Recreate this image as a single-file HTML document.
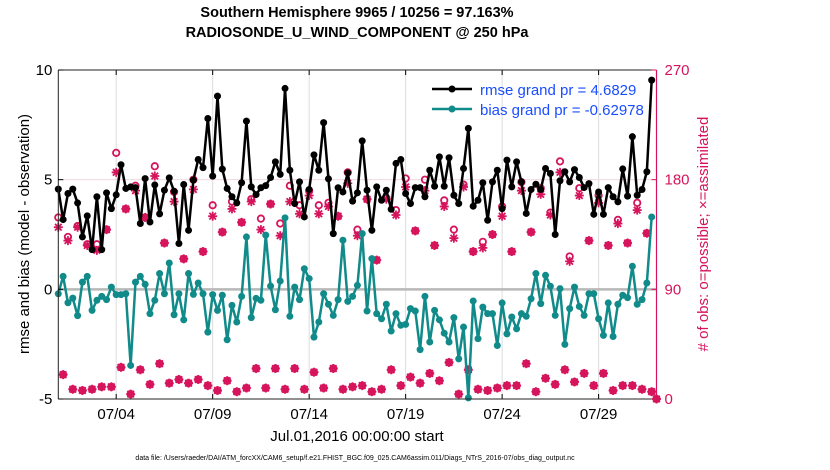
<!DOCTYPE html>
<html><head><meta charset="utf-8"><style>
html,body{margin:0;padding:0;background:#fff;}
svg{display:block;font-family:"Liberation Sans",sans-serif;}
</style></head><body>
<svg id="chart" width="830" height="470" viewBox="0 0 830 470">
<text x="357" y="17" text-anchor="middle" font-size="14.5" font-weight="bold">Southern Hemisphere 9965 / 10256 = 97.163%</text>
<text x="357" y="37" text-anchor="middle" font-size="14.5" font-weight="bold">RADIOSONDE_U_WIND_COMPONENT @ 250 hPa</text>
<text transform="translate(29,234) rotate(-90)" text-anchor="middle" font-size="15">rmse and bias (model - observation)</text>
<text transform="translate(708,234) rotate(-90)" text-anchor="middle" font-size="15" fill="#d6145c"># of obs: o=possible; ×=assimilated</text>
<text x="357" y="441" text-anchor="middle" font-size="15">Jul.01,2016 00:00:00 start</text>
<text x="355" y="460" text-anchor="middle" font-size="7">data file: /Users/raeder/DAI/ATM_forcXX/CAM6_setup/f.e21.FHIST_BGC.f09_025.CAM6assim.011/Diags_NTrS_2016-07/obs_diag_output.nc</text>
<g id="grid"></g>
<g id="marks"></g>
<g id="axes"></g>
<g>
<line x1="432" y1="89" x2="472" y2="89" stroke="#000" stroke-width="2.5"/>
<circle cx="452" cy="89" r="3.5" fill="#000"/>
<text x="480" y="95" font-size="15" fill="#1a4dff">rmse grand pr = 4.6829</text>
<line x1="432" y1="109" x2="472" y2="109" stroke="#118a8a" stroke-width="2.5"/>
<circle cx="452" cy="109" r="3.5" fill="#118a8a"/>
<text x="480" y="115" font-size="15" fill="#1a4dff">bias grand pr = -0.62978</text>
</g>
</svg>
<script>
const rmse=[4.57,3.18,4.37,4.57,3.94,2.39,3.35,1.81,4.22,1.81,4.4,3.68,4.31,5.68,4.6,4.67,4.64,3.0,5.05,3.07,4.76,3.44,4.52,5.08,4.47,2.09,4.78,2.69,4.98,5.92,5.55,7.79,
5.16,8.81,5.48,4.6,4.22,3.94,4.86,7.67,4.67,4.32,4.63,4.73,5.1,5.81,5.24,9.16,5.43,3.91,4.9,3.3,4.55,6.13,5.43,7.6,5.04,2.54,4.63,4.44,5.31,4.02,4.4,6.77,
4.52,2.69,4.67,4.06,4.52,3.65,5.74,5.92,4.37,3.91,4.64,4.64,4.22,5.43,4.7,6.04,4.7,6.0,4.29,3.91,5.51,7.34,3.79,4.06,4.86,3.15,4.9,5.43,3.68,5.89,
4.67,5.81,4.9,3.46,4.55,4.79,4.55,5.51,5.28,2.5,4.95,5.36,4.9,5.46,5.1,4.64,4.82,3.42,4.44,3.42,4.64,4.22,3.99,5.49,4.25,6.96,4.29,4.55,5.36,9.54];
const bias=[-0.2,0.59,-0.61,-0.4,-1.2,0.33,0.59,-0.96,-0.5,-0.32,-0.47,0.1,-0.24,-0.24,-0.2,-3.47,0.33,0.59,0.23,-1.11,-0.5,0.72,-0.2,1.2,-1.16,-0.2,-1.39,0.72,-0.23,0.29,-0.2,-1.95,
-0.24,-0.96,-0.27,-2.3,-0.73,-1.49,-0.32,2.39,-1.29,-0.41,-0.5,2.47,0.15,-0.93,0.38,3.26,-1.23,0.1,-0.47,0.94,0.49,-2.18,-1.49,-0.2,-0.68,-1.19,-0.47,2.24,-0.55,-0.32,0.18,
2.54,-0.99,1.4,-1.11,-1.34,-0.68,-1.9,-1.11,-1.64,-1.6,-0.88,-0.99,-2.75,-0.32,-2.4,-0.96,-1.39,-2.0,-2.4,-1.29,-3.17,-1.72,-4.95,-0.53,-2.25,-0.81,-1.11,-1.11,-2.56,-0.62,-2.03,
-1.26,-1.8,-1.11,-1.23,-0.43,0.72,-0.65,0.64,0.14,-1.19,0.03,-2.51,-0.88,0.1,-0.78,-1.19,-0.2,-0.2,-1.34,-2.1,-0.62,-2.15,-0.68,-0.27,-0.38,1.05,-0.68,-0.47,0.29,3.3];
const assimilated=[141,20,130,8,141,7,126,8,122,10,139,10,186,26,156,4,171,24,149,12,183,29,128,13,162,16,115,13,172,16,121,11,
150,7,137,15,156,6,145,9,162,25,139,9,160,25,134,8,162,25,152,8,167,22,152,9,158,25,150,8,177,10,134,
11,164,6,114,8,164,24,151,11,174,18,138,13,171,21,126,15,158,30,132,4,174,24,121,8,124,7,135,9,150,11,
121,11,171,29,137,6,168,17,151,12,186,24,113,14,167,21,130,11,161,21,126,7,144,11,128,11,155,8,136,6,0];
const possible=[149,20,133,8,142,7,127,8,127,10,139,10,202,26,156,4,175,24,149,12,191,29,128,13,170,16,115,13,180,16,121,11,
159,7,137,15,162,6,145,9,164,25,148,9,160,25,144,8,175,25,159,8,171,22,159,9,161,25,150,8,186,10,139,
11,164,6,114,8,165,24,155,11,181,18,138,13,180,21,126,15,163,30,139,4,176,24,121,8,129,7,135,9,158,11,
121,11,178,29,137,6,173,17,153,12,195,24,117,14,173,21,130,11,167,21,126,7,147,11,128,11,161,8,136,6,0];
const xTickLabels=["07/04","07/09","07/14","07/19","07/24","07/29"];
const xTickIndex=[12,32,52,72,92,112];
const leftTicks=[10,5,0,-5];
const rightTicks=[270,180,90,0];

const NS="http://www.w3.org/2000/svg";
const X0=58.3,X1=656.5,Y0=70,Y1=399;
const xs=i=>X0+(X1-X0)*i/124;
const yl=v=>Y1-(v+5)/15*(Y1-Y0);
const yr=v=>Y1-v/270*(Y1-Y0);
function mk(tag,attrs,parent){const e=document.createElementNS(NS,tag);for(const k in attrs)e.setAttribute(k,attrs[k]);parent.appendChild(e);return e;}
const grid=document.getElementById('grid'),marks=document.getElementById('marks'),axes=document.getElementById('axes');
const RED="#d6145c",TEAL="#118a8a";

xTickIndex.forEach((ti,k)=>{
  const x=xs(ti);
  const g=mk('line',{x1:x,y1:Y0,x2:x,y2:Y1,stroke:'#dcdcdc','stroke-width':1},grid);
  
  
  mk('line',{x1:x,y1:Y1,x2:x,y2:Y1-5,stroke:'#000'},axes);
  mk('line',{x1:x,y1:Y0,x2:x,y2:Y0+5,stroke:'#000'},axes);
  const t=mk('text',{x:x,y:Y1+20,'text-anchor':'middle','font-size':15},axes);
  t.textContent=xTickLabels[k];
  
  
});
const g5=mk('line',{x1:X0,y1:yl(5),x2:X1,y2:yl(5),stroke:'#f0d8e0','stroke-width':1},grid);


const zl=mk('line',{x1:X0,y1:yl(0),x2:X1,y2:yl(0),stroke:'#b8b8b8','stroke-width':2.5},grid);



// counts
function star(cx,cy,parent){
  const g=mk('g',{stroke:RED,'stroke-width':1.8},parent);
  const s=4.5;
  mk('line',{x1:cx-s,y1:cy,x2:cx+s,y2:cy},g);
  mk('line',{x1:cx,y1:cy-s,x2:cx,y2:cy+s},g);
  mk('line',{x1:cx-3.3,y1:cy-3.3,x2:cx+3.3,y2:cy+3.3},g);
  mk('line',{x1:cx-3.3,y1:cy+3.3,x2:cx+3.3,y2:cy-3.3},g);
  return g;
}
possible.forEach((v,i)=>{
  const c=mk('circle',{cx:xs(i),cy:yr(v),r:3.2,fill:'none',stroke:RED,'stroke-width':1.8},marks);
  
  
});
assimilated.forEach((v,i)=>{
  const s=star(xs(i),yr(v),marks);
  
  
});
// lines
function series(arr,color,name){
  const p=mk('polyline',{points:arr.map((v,i)=>xs(i)+','+yl(v)).join(' '),fill:'none',stroke:color,'stroke-width':2.5,'stroke-linejoin':'round'},marks);
  
  
  arr.forEach((v,i)=>{
    const c=mk('circle',{cx:xs(i),cy:yl(v),r:3.5,fill:color},marks);
    
    
  });
}
series(bias,TEAL,'bias');
series(rmse,'#000','rmse');

// axes box
mk('line',{x1:X0,y1:Y0,x2:X0,y2:Y1,stroke:'#222','stroke-width':1},axes);
mk('line',{x1:X0,y1:Y1,x2:X1,y2:Y1,stroke:'#222','stroke-width':1},axes);
mk('line',{x1:X0,y1:Y0,x2:X1,y2:Y0,stroke:'#222','stroke-width':1},axes);
mk('line',{x1:X1,y1:Y0,x2:X1,y2:Y1,stroke:RED,'stroke-width':1.2},axes);
leftTicks.forEach(v=>{
  const y=yl(v);
  mk('line',{x1:X0,y1:y,x2:X0+5,y2:y,stroke:'#000'},axes);
  const t=mk('text',{x:X0-6,y:y+5,'text-anchor':'end','font-size':15},axes);
  t.textContent=v;
  
  
});
rightTicks.forEach(v=>{
  const y=yr(v);
  mk('line',{x1:X1,y1:y,x2:X1-5,y2:y,stroke:RED},axes);
  const t=mk('text',{x:X1+8,y:y+5,'text-anchor':'start','font-size':15,fill:RED},axes);
  t.textContent=v;
  
  
});
</script>
</body></html>
